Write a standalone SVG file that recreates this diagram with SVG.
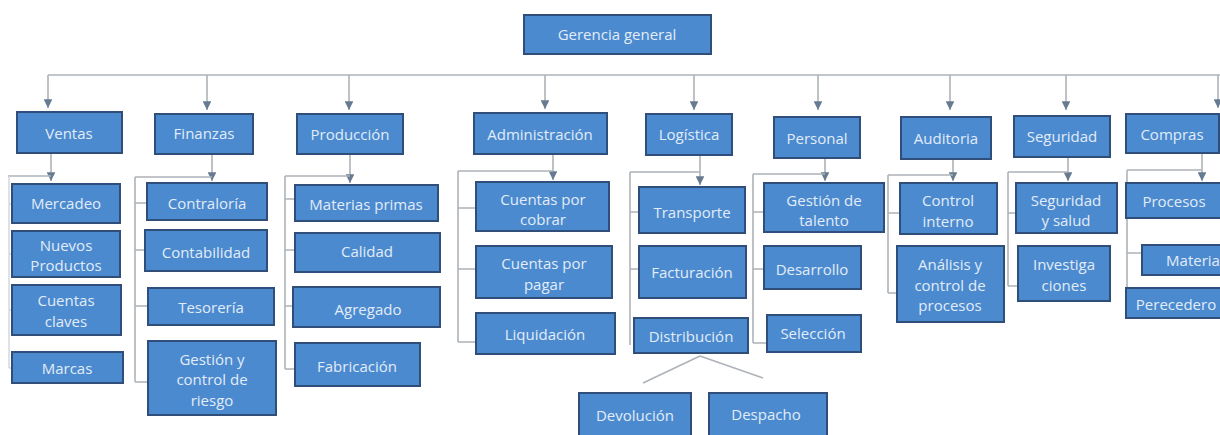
<svg xmlns="http://www.w3.org/2000/svg" width="1220" height="435" viewBox="0 0 1220 435">
<style>
.b{fill:#4b8acf;stroke:#2f4f7a;stroke-width:2}
.t{font-family:"Open Sans","Liberation Sans",sans-serif;font-size:15px;fill:#e2ecf8;text-anchor:middle;dominant-baseline:central}
.c{fill:none;stroke:#adb3b9;stroke-width:1.6}
.f{fill:none;stroke:#cfd3d7;stroke-width:1.3}
</style>
<defs>
<marker id="ah" viewBox="0 0 10 10" refX="10" refY="5" markerWidth="5.5" markerHeight="5.5" orient="auto" markerUnits="strokeWidth">
<path d="M0,0 L10,5 L0,10 z" fill="#667b91"/>
</marker>
</defs>
<rect width="1220" height="435" fill="#ffffff"/>
<g id="connectors">
<path class="c" d="M48,75 H1220"/>
<path class="c" d="M48,75 V108" marker-end="url(#ah)"/>
<path class="c" d="M207,75 V110" marker-end="url(#ah)"/>
<path class="c" d="M349,75 V110" marker-end="url(#ah)"/>
<path class="c" d="M545,75 V109" marker-end="url(#ah)"/>
<path class="c" d="M694,75 V110" marker-end="url(#ah)"/>
<path class="c" d="M818,75 V110" marker-end="url(#ah)"/>
<path class="c" d="M950,75 V110" marker-end="url(#ah)"/>
<path class="c" d="M1066,75 V110" marker-end="url(#ah)"/>
<path class="c" d="M1218,75 V108" marker-end="url(#ah)"/>
<!-- Ventas -->
<path class="c" d="M51,153 V181" marker-end="url(#ah)"/>
<path class="c" d="M8,176 H51"/>
<path class="f" d="M9,176 V368 M9,204 H12 M9,254 H12 M9,310 H12 M9,368 H12"/>
<!-- Finanzas -->
<path class="c" d="M212,154 V181" marker-end="url(#ah)"/>
<path class="c" d="M135,177 H212 M135,177 V382 M135,203 H146 M135,250 H145 M135,306 H148 M135,382 H148"/>
<!-- Producción -->
<path class="c" d="M350,154 V183" marker-end="url(#ah)"/>
<path class="c" d="M285,176 H350 M285,176 V369 M285,199 H295 M285,250 H295 M285,306 H293 M285,369 H295"/>
<!-- Administración -->
<path class="c" d="M553,154 V180" marker-end="url(#ah)"/>
<path class="c" d="M458,171 H553 M458,171 V342 M458,208 H476 M458,269 H476 M458,342 H476"/>
<!-- Logística -->
<path class="c" d="M700,155 V185" marker-end="url(#ah)"/>
<path class="c" d="M630,172 H700 M630,172 V345 M630,212 H639 M630,269 H639"/>
<path class="c" d="M700,356 L643,383 M700,356 L763,378"/>
<!-- Personal -->
<path class="c" d="M825,158 V181" marker-end="url(#ah)"/>
<path class="c" d="M753,174 H825 M753,174 V343 M753,212 H764 M753,269 H764 M753,343 H767"/>
<!-- Auditoria -->
<path class="c" d="M953,159 V181" marker-end="url(#ah)"/>
<path class="c" d="M888,175 H953 M888,175 V293 M888,213 H900 M888,293 H897"/>
<!-- Seguridad -->
<path class="c" d="M1068,157 V181" marker-end="url(#ah)"/>
<path class="c" d="M1008,172 H1068 M1008,172 V286 M1008,213 H1016 M1008,286 H1018"/>
<!-- Compras -->
<path class="c" d="M1202,153 V181" marker-end="url(#ah)"/>
<path class="c" d="M1127,170 H1202 M1127,170 V290 M1127,253 H1142"/>
</g>
<g id="n-gerencia"><rect class="b" x="524" y="15" width="187" height="39"/><text class="t" x="617" y="34">Gerencia general</text></g>
<g id="n-ventas"><rect class="b" x="17" y="112" width="105" height="41"/><text class="t" x="69" y="133">Ventas</text></g>
<g id="n-finanzas"><rect class="b" x="155" y="114" width="98" height="40"/><text class="t" x="204" y="133">Finanzas</text></g>
<g id="n-produccion"><rect class="b" x="297" y="114" width="106" height="40"/><text class="t" x="350" y="134">Producción</text></g>
<g id="n-administracion"><rect class="b" x="474" y="113" width="133" height="41"/><text class="t" x="540" y="134">Administración</text></g>
<g id="n-logistica"><rect class="b" x="646" y="114" width="86" height="41"/><text class="t" x="689" y="134">Logística</text></g>
<g id="n-personal"><rect class="b" x="774" y="117" width="86" height="41"/><text class="t" x="817" y="138">Personal</text></g>
<g id="n-auditoria"><rect class="b" x="901" y="117" width="90" height="42"/><text class="t" x="946" y="138">Auditoria</text></g>
<g id="n-seguridad"><rect class="b" x="1014" y="116" width="96" height="41"/><text class="t" x="1062" y="136">Seguridad</text></g>
<g id="n-compras"><rect class="b" x="1126" y="114" width="93" height="39"/><text class="t" x="1172" y="134">Compras</text></g>

<g id="n-mercadeo"><rect class="b" x="12" y="184" width="108" height="39"/><text class="t" x="66" y="203">Mercadeo</text></g>
<g id="n-nuevos"><rect class="b" x="12" y="231" width="108" height="46"/><text class="t" x="66" y="245">Nuevos</text><text class="t" x="66" y="265">Productos</text></g>
<g id="n-cuentasclaves"><rect class="b" x="12" y="285" width="109" height="50"/><text class="t" x="66" y="300">Cuentas</text><text class="t" x="66" y="321">claves</text></g>
<g id="n-marcas"><rect class="b" x="12" y="352" width="111" height="31"/><text class="t" x="67" y="368">Marcas</text></g>

<g id="n-contraloria"><rect class="b" x="147" y="183" width="120" height="37"/><text class="t" x="207" y="203">Contraloría</text></g>
<g id="n-contabilidad"><rect class="b" x="145" y="230" width="122" height="41"/><text class="t" x="206" y="252">Contabilidad</text></g>
<g id="n-tesoreria"><rect class="b" x="148" y="288" width="126" height="37"/><text class="t" x="211" y="307">Tesorería</text></g>
<g id="n-gestionriesgo"><rect class="b" x="148" y="341" width="128" height="74"/><text class="t" x="212" y="359">Gestión y</text><text class="t" x="212" y="379">control de</text><text class="t" x="212" y="400">riesgo</text></g>

<g id="n-materias"><rect class="b" x="295" y="185" width="143" height="36"/><text class="t" x="366" y="204">Materias primas</text></g>
<g id="n-calidad"><rect class="b" x="295" y="233" width="145" height="39"/><text class="t" x="367" y="251">Calidad</text></g>
<g id="n-agregado"><rect class="b" x="293" y="287" width="147" height="40"/><text class="t" x="368" y="309">Agregado</text></g>
<g id="n-fabricacion"><rect class="b" x="295" y="343" width="125" height="43"/><text class="t" x="357" y="366">Fabricación</text></g>

<g id="n-cobrar"><rect class="b" x="476" y="182" width="133" height="49"/><text class="t" x="543" y="199">Cuentas por</text><text class="t" x="543" y="219">cobrar</text></g>
<g id="n-pagar"><rect class="b" x="476" y="246" width="136" height="52"/><text class="t" x="544" y="263">Cuentas por</text><text class="t" x="544" y="284">pagar</text></g>
<g id="n-liquidacion"><rect class="b" x="476" y="313" width="139" height="41"/><text class="t" x="545" y="334">Liquidación</text></g>

<g id="n-transporte"><rect class="b" x="639" y="187" width="106" height="46"/><text class="t" x="692" y="212">Transporte</text></g>
<g id="n-facturacion"><rect class="b" x="639" y="246" width="107" height="52"/><text class="t" x="692" y="272">Facturación</text></g>
<g id="n-distribucion"><rect class="b" x="634" y="318" width="114" height="35"/><text class="t" x="691" y="336">Distribución</text></g>
<g id="n-devolucion"><rect class="b" x="579" y="393" width="112" height="50"/><text class="t" x="635" y="415">Devolución</text></g>
<g id="n-despacho"><rect class="b" x="709" y="393" width="118" height="50"/><text class="t" x="766" y="414">Despacho</text></g>

<g id="n-talento"><rect class="b" x="764" y="183" width="120" height="49"/><text class="t" x="824" y="200">Gestión de</text><text class="t" x="824" y="220">talento</text></g>
<g id="n-desarrollo"><rect class="b" x="764" y="246" width="97" height="43"/><text class="t" x="812" y="269">Desarrollo</text></g>
<g id="n-seleccion"><rect class="b" x="767" y="315" width="94" height="37"/><text class="t" x="813" y="333">Selección</text></g>

<g id="n-control"><rect class="b" x="900" y="183" width="97" height="51"/><text class="t" x="948" y="200">Control</text><text class="t" x="948" y="221">interno</text></g>
<g id="n-analisis"><rect class="b" x="897" y="246" width="107" height="76"/><text class="t" x="950" y="264">Análisis y</text><text class="t" x="950" y="285">control de</text><text class="t" x="950" y="305">procesos</text></g>

<g id="n-segsalud"><rect class="b" x="1016" y="183" width="101" height="50"/><text class="t" x="1066" y="200">Seguridad</text><text class="t" x="1066" y="220">y salud</text></g>
<g id="n-investigaciones"><rect class="b" x="1018" y="246" width="92" height="55"/><text class="t" x="1064" y="264">Investiga</text><text class="t" x="1064" y="285">ciones</text></g>

<g id="n-procesos"><rect class="b" x="1126" y="183" width="98" height="35"/><text class="t" x="1174" y="201">Procesos</text></g>
<g id="n-materia"><rect class="b" x="1142" y="245" width="82" height="30"/><text class="t" x="1193" y="260">Materia</text></g>
<g id="n-perecedero"><rect class="b" x="1126" y="288" width="98" height="30"/><text class="t" x="1176" y="304">Perecedero</text></g>
</svg>
